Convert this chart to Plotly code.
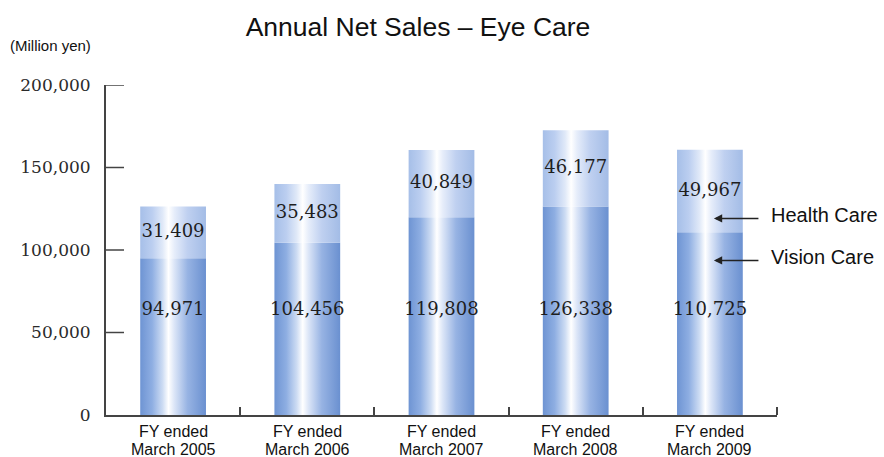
import plotly.graph_objects as go

# Annual net sales, Eye Care segment (million yen)
fiscal_years = ["2005", "2006", "2007", "2008", "2009"]
vision_care = [94971, 104456, 119808, 126338, 110725]
health_care = [31409, 35483, 40849, 46177, 49967]
y_ticks = [0, 50000, 100000, 150000, 200000]

BAR_W = 0.49
VISION_LABEL_Y = 63500  # common height of the lower value labels

vision_scale = [[0.0, "#6e94d3"], [0.18, "#8eaee2"], [0.34, "#cddcf3"], [0.43, "#ffffff"],
                [0.52, "#dbe5f7"], [0.72, "#97b3e3"], [1.0, "#6a90d0"]]
health_scale = [[0.0, "#a6bfe8"], [0.18, "#bbcef0"], [0.34, "#e0e9f8"], [0.43, "#ffffff"],
                [0.52, "#e6edfa"], [0.72, "#bfd0f0"], [1.0, "#a3bce6"]]

fig = go.Figure()


def add_segment(idx, base, value, scale, name):
    left, right = idx - BAR_W / 2, idx + BAR_W / 2
    top = base + value
    fig.add_trace(go.Scatter(
        x=[left, right, right, left, left],
        y=[base, base, top, top, base],
        mode="lines", fill="toself", line=dict(width=0),
        fillgradient=dict(type="horizontal", colorscale=scale, start=left, stop=right),
        name=name, showlegend=False, hoverinfo="skip",
    ))


for i, (v, h) in enumerate(zip(vision_care, health_care)):
    add_segment(i, 0, v, vision_scale, "Vision Care")
    add_segment(i, v, h, health_scale, "Health Care")

label_font = dict(family="DejaVu Serif", size=18, color="#1e1e1e")
xs = list(range(len(fiscal_years)))
fig.add_trace(go.Scatter(
    x=xs, y=[VISION_LABEL_Y] * len(xs), mode="text",
    text=[f"{v:,}" for v in vision_care], textfont=label_font,
    showlegend=False, hoverinfo="skip",
))
fig.add_trace(go.Scatter(
    x=xs, y=[v + h / 2 for v, h in zip(vision_care, health_care)], mode="text",
    text=[f"{h:,}" for h in health_care], textfont=label_font,
    showlegend=False, hoverinfo="skip",
))

axis_col = "#444444"
cat_font = dict(family="Liberation Sans", size=16, color="#111111")

annotations = [
    dict(text="(Million yen)", xref="paper", yref="paper", x=-0.146, y=1.121,
         xanchor="left", yanchor="middle", showarrow=False,
         font=dict(family="Liberation Sans", size=15, color="#111111")),
    dict(text="", x=4.03, y=119100, ax=46, ay=0, showarrow=True,
         arrowhead=2, arrowsize=1.1, arrowwidth=1.5, arrowcolor="#222222"),
    dict(text="", x=4.03, y=93700, ax=46, ay=0, showarrow=True,
         arrowhead=2, arrowsize=1.1, arrowwidth=1.5, arrowcolor="#222222"),
    dict(text="Health Care", x=4.44, y=121200, xanchor="left", yanchor="middle",
         showarrow=False, font=dict(family="Liberation Sans", size=20, color="#111111")),
    dict(text="Vision Care", x=4.44, y=95500, xanchor="left", yanchor="middle",
         showarrow=False, font=dict(family="Liberation Sans", size=20, color="#111111")),
]
# two-line category labels under each bar
for i, fy in enumerate(fiscal_years):
    annotations.append(dict(text="FY ended", x=i, xref="x", y=0, yref="paper",
                            yanchor="middle", yshift=-16, showarrow=False, font=cat_font))
    annotations.append(dict(text=f"March {fy}", x=i, xref="x", y=0, yref="paper",
                            yanchor="middle", yshift=-34, showarrow=False, font=cat_font))

# inward tick marks on the value axis, 18 px long
tick_shapes = [
    dict(type="line", xref="paper", yref="y", xsizemode="pixel", xanchor=0,
         x0=0, x1=18, y0=v, y1=v, line=dict(color=axis_col, width=1.5), layer="above")
    for v in y_ticks[1:]
]

fig.update_layout(
    width=884, height=457,
    margin=dict(l=106, r=107, t=85, b=42),
    plot_bgcolor="white", paper_bgcolor="white",
    title=dict(text="Annual Net Sales – Eye Care", x=418 / 884, xref="container", xanchor="center",
               y=1 - 27 / 457, yref="container", yanchor="middle",
               font=dict(family="Liberation Sans", size=26.5, color="#111111")),
    xaxis=dict(range=[-0.5, 4.5], tickvals=xs, ticks="", showticklabels=False,
               minor=dict(tickmode="array", tickvals=[0.5, 1.5, 2.5, 3.5, 4.5], ticks="inside",
                          ticklen=8, tickwidth=1.5, tickcolor=axis_col, showgrid=False),
               showgrid=False, zeroline=False, showline=True, linecolor=axis_col, linewidth=2,
               automargin=False),
    yaxis=dict(range=[0, 200000], tickvals=y_ticks, tickformat=",d", ticks="",
               showgrid=False, zeroline=False, showline=True, linecolor=axis_col, linewidth=2,
               tickfont=dict(family="DejaVu Serif", size=17, color="#2a2a2a"),
               ticklabelstandoff=10, automargin=False),
    shapes=tick_shapes,
    annotations=annotations,
)

fig.write_html("out.html")
